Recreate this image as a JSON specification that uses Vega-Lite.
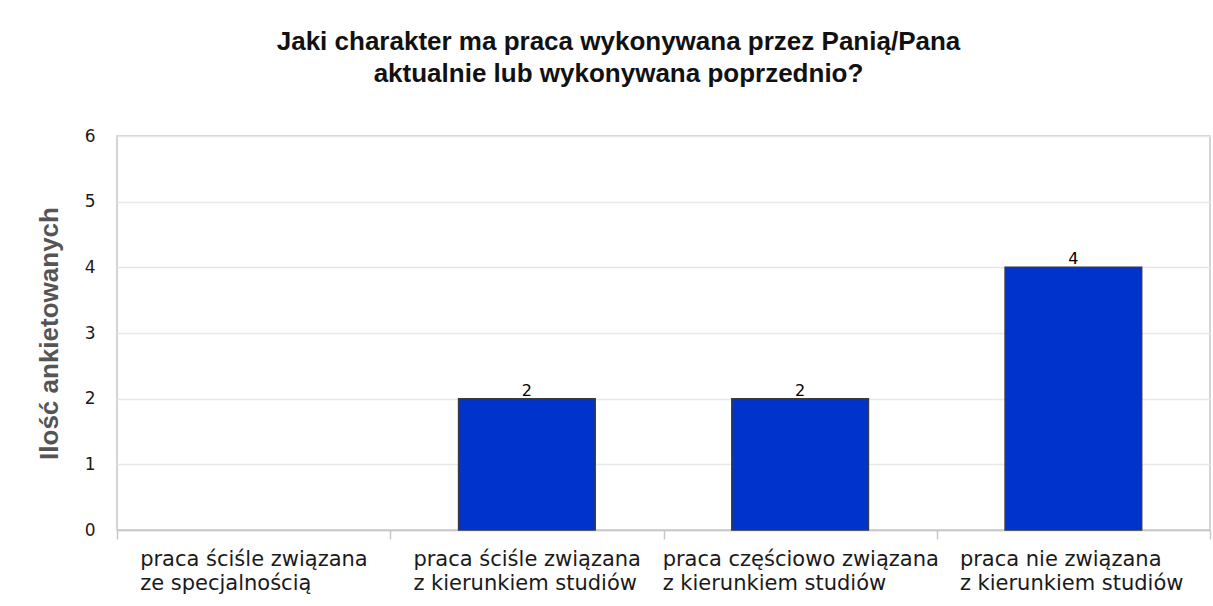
{
  "$schema": "https://vega.github.io/schema/vega-lite/v6.json",
  "width": 1093,
  "height": 394,
  "autosize": {"type": "none"},
  "padding": {"left": 117, "top": 136, "right": 3, "bottom": 76},
  "background": "white",
  "config": {
    "view": {"stroke": "#c8c8c8", "strokeWidth": 1.5},
    "font": "DejaVu Sans"
  },
  "title": {
    "text": ["Jaki charakter ma praca wykonywana przez Panią/Pana", "aktualnie lub wykonywana poprzednio?"],
    "font": "Liberation Sans",
    "fontSize": 26,
    "fontWeight": "bold",
    "color": "#111111",
    "anchor": "middle",
    "dx": -45,
    "offset": 40,
    "lineHeight": 32
  },
  "data": {
    "values": [
      {"kategoria": "praca ściśle związana|ze specjalnością", "ilosc": 0},
      {"kategoria": "praca ściśle związana|z kierunkiem studiów", "ilosc": 2},
      {"kategoria": "praca częściowo związana|z kierunkiem studiów", "ilosc": 2},
      {"kategoria": "praca nie związana|z kierunkiem studiów", "ilosc": 4}
    ]
  },
  "encoding": {
    "x": {
      "field": "kategoria",
      "type": "nominal",
      "sort": null,
      "scale": {
        "domain": ["praca ściśle związana|ze specjalnością", "praca ściśle związana|z kierunkiem studiów", "praca częściowo związana|z kierunkiem studiów", "praca nie związana|z kierunkiem studiów"],
        "paddingInner": 0,
        "paddingOuter": 0
      },
      "axis": {
        "title": null,
        "labelExpr": "split(datum.label, '|')",
        "labelAngle": 0,
        "labelAlign": "left",
        "labelBaseline": "alphabetic",
        "labelOffset": {"condition": {"test": "datum && datum.value && indexof(datum.value, 'częściowo') >= 0", "value": -138}, "value": -114},
        "labelFont": "DejaVu Sans",
        "labelFontSize": 21,
        "labelColor": "#1a1a1a",
        "labelLineHeight": 24,
        "labelPadding": 26,
        "labelLimit": 400,
        "labelOverlap": false,
        "domainColor": "#c8c8c8",
        "domainWidth": 1.5,
        "tickColor": "#c8c8c8",
        "tickWidth": 1.5,
        "tickSize": 9,
        "tickBand": "extent",
        "grid": false
      }
    },
    "y": {
      "field": "ilosc",
      "type": "quantitative",
      "scale": {"domain": [0, 6], "nice": false},
      "axis": {
        "title": "Ilość ankietowanych",
        "titleFont": "Liberation Sans",
        "titleFontSize": 26,
        "titleFontWeight": "bold",
        "titleColor": "#555555",
        "titlePadding": 22,
        "values": [0, 1, 2, 3, 4, 5, 6],
        "labelFont": "DejaVu Sans",
        "labelFontSize": 17,
        "labelColor": "#1a1a1a",
        "labelPadding": 22,
        "ticks": false,
        "domain": false,
        "gridColor": "#e8e8e8",
        "gridWidth": 1.5
      }
    }
  },
  "layer": [
    {
      "transform": [{"filter": "datum.ilosc > 0"}],
      "mark": {"type": "bar", "width": {"band": 0.5}, "fill": "#0033CC", "stroke": "#3a3a3a", "strokeWidth": 1.5}
    },
    {
      "transform": [{"filter": "datum.ilosc > 0"}],
      "mark": {"type": "text", "baseline": "alphabetic", "dy": -3, "font": "DejaVu Sans", "fontSize": 16, "color": "#000000"},
      "encoding": {"text": {"field": "ilosc", "type": "quantitative"}}
    }
  ]
}
